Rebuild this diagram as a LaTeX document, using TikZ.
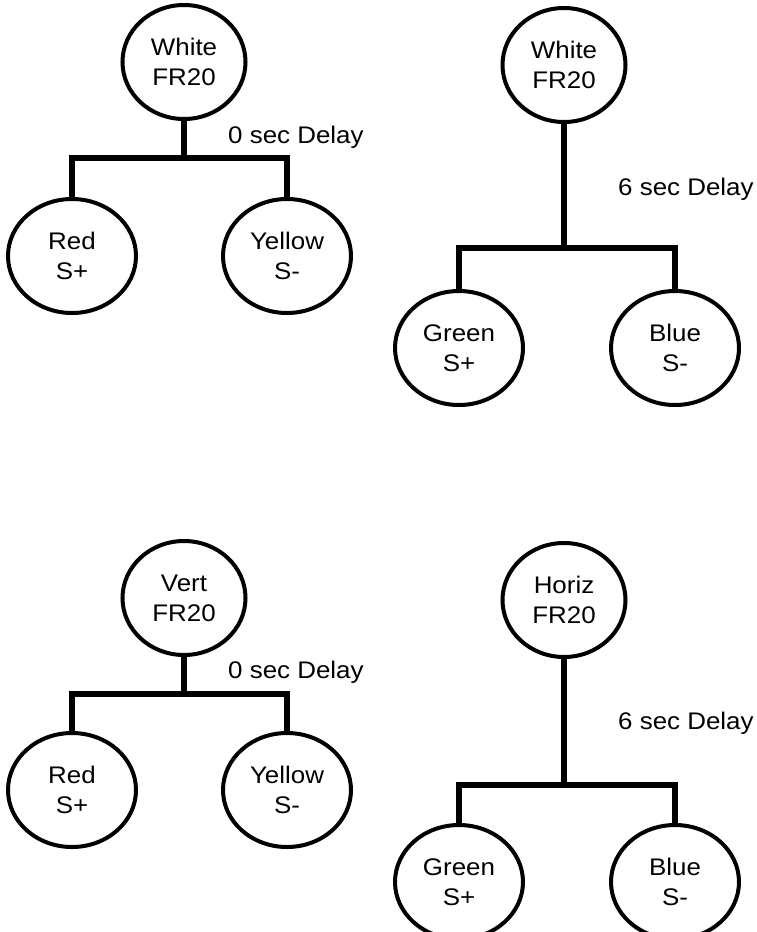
\documentclass[tikz,border=0pt]{standalone}
\usepackage{fontspec}
\setmainfont{Liberation Sans}[FakeStretch=1.08]
\usetikzlibrary{shapes.geometric}
\tikzset{
  stim/.style={ellipse, draw, line width=4pt, minimum width=123pt, minimum height=114pt, inner sep=0pt, align=center, font=\fontsize{24}{30}\selectfont},
  choice/.style={stim, minimum width=128pt},
  branch/.style={line width=5.5pt, line join=miter},
  delay/.style={anchor=base west, inner sep=0pt, font=\fontsize{24}{30}\selectfont}
}
\begin{document}
\begin{tikzpicture}[x=1pt,y=1pt,yscale=-1,xscale=1]
            \useasboundingbox (0,0) rectangle (757,932);
            \clip (0,0) rectangle (757,932);

            %Tree: top left, 0 sec delay
            \node[stim] (whiteA) at (184,62) {White\\FR20};
            \node[choice] (redA) at (72,256) {Red\\S+};
            \node[choice] (yellowA) at (287,256) {Yellow\\S-};
            \coordinate (barA) at (184,158);
            \draw[branch] (whiteA.south) -- (barA);
            \draw[branch] (redA.north) |- (barA) -| (yellowA.north);
            % Text Node
            \draw (228,143) node[delay] {0 sec Delay};

            %Tree: top right, 6 sec delay
            \node[stim] (whiteB) at (564,65) {White\\FR20};
            \node[choice] (greenB) at (459,348) {Green\\S+};
            \node[choice] (blueB) at (675,348) {Blue\\S-};
            \coordinate (barB) at (564,248);
            \draw[branch] (whiteB.south) -- (barB);
            \draw[branch] (greenB.north) |- (barB) -| (blueB.north);
            % Text Node
            \draw (618,195) node[delay] {6 sec Delay};

            %Tree: bottom left, 0 sec delay
            \node[stim] (vertC) at (184,598) {Vert\\FR20};
            \node[choice] (redC) at (72,790) {Red\\S+};
            \node[choice] (yellowC) at (287,790) {Yellow\\S-};
            \coordinate (barC) at (184,694);
            \draw[branch] (vertC.south) -- (barC);
            \draw[branch] (redC.north) |- (barC) -| (yellowC.north);
            % Text Node
            \draw (228,678) node[delay] {0 sec Delay};

            %Tree: bottom right, 6 sec delay
            \node[stim] (horizD) at (564,600) {Horiz\\FR20};
            \node[choice] (greenD) at (459,882) {Green\\S+};
            \node[choice] (blueD) at (675,882) {Blue\\S-};
            \coordinate (barD) at (564,785);
            \draw[branch] (horizD.south) -- (barD);
            \draw[branch] (greenD.north) |- (barD) -| (blueD.north);
            % Text Node
            \draw (618,729) node[delay] {6 sec Delay};

        \end{tikzpicture}
\end{document}
